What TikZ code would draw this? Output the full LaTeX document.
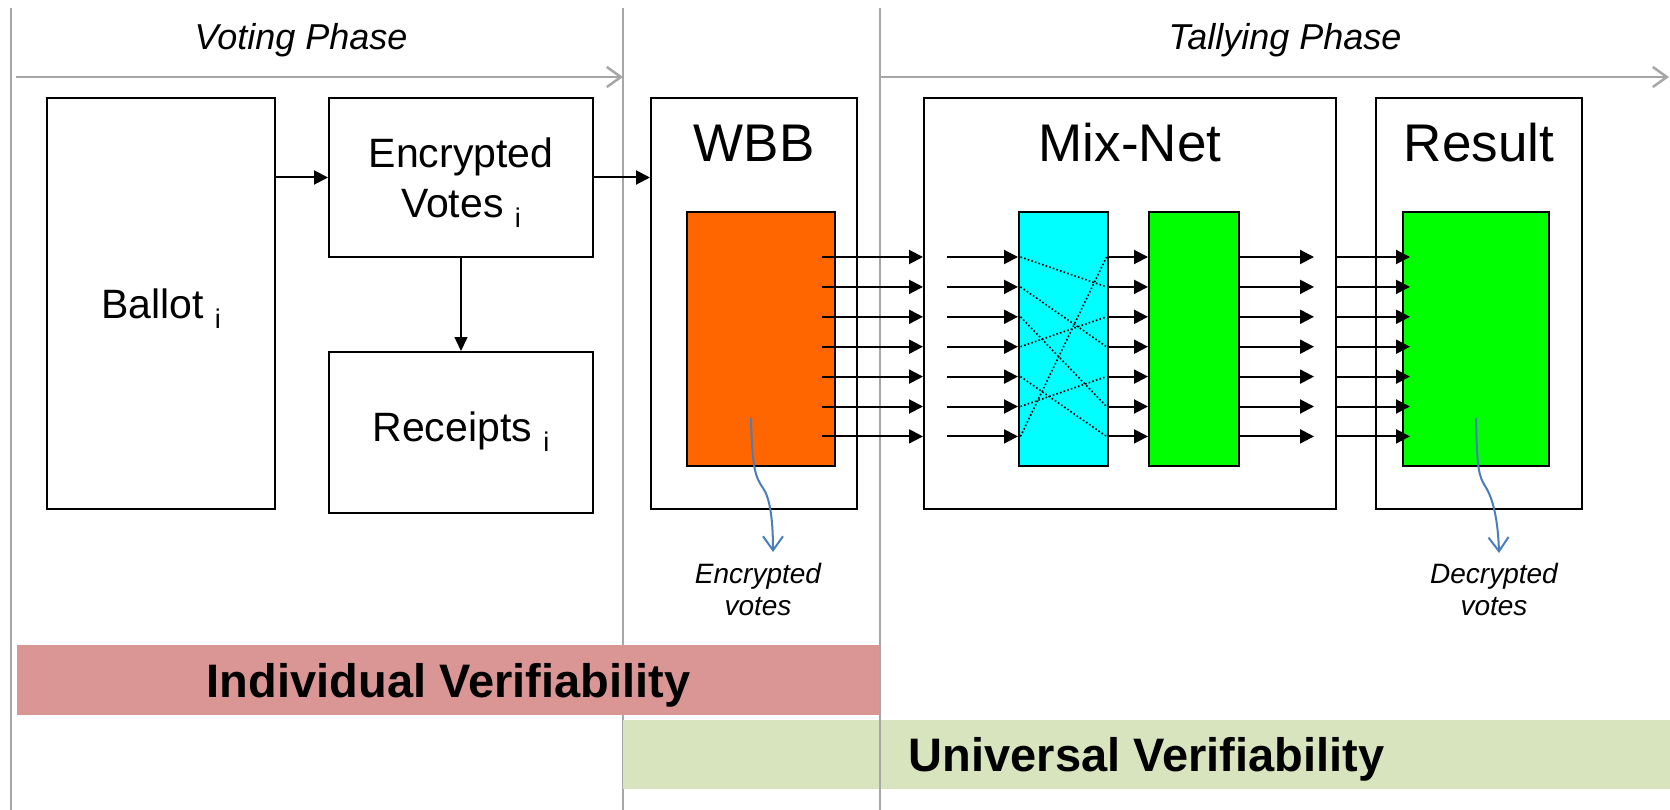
\documentclass[tikz,border=0pt]{standalone}
\usepackage{fontspec}
\setmainfont{Liberation Sans}
\usetikzlibrary{arrows.meta,calc}

\definecolor{phasegray}{HTML}{A6A6A6}
\definecolor{indivpink}{HTML}{D99694}
\definecolor{univgreen}{HTML}{D7E4BD}
\definecolor{wbborange}{HTML}{FF6600}
\definecolor{mixcyan}{HTML}{00FFFF}
\definecolor{brightgreen}{HTML}{00FF00}
\definecolor{pickblue}{HTML}{4A7EBB}

% lowered index letter used after box captions
\newcommand\sidx{\raisebox{-10pt}{\fontsize{27}{27}\selectfont i}}

\begin{document}
\begin{tikzpicture}[x=1pt,y=-1pt,
  box/.style={draw=black, line width=2pt, fill=white, inner sep=0pt},
  fillbox/.style={draw=black, line width=2pt, inner sep=0pt},
  boxtext/.style={font=\fontsize{41}{50}\selectfont, inner sep=0pt},
  title/.style={font=\fontsize{53}{60}\selectfont, inner sep=0pt, anchor=base},
  phase/.style={font=\fontsize{36}{40}\selectfont\itshape, inner sep=0pt, anchor=base},
  note/.style={font=\fontsize{28}{32}\selectfont\itshape, inner sep=0pt, anchor=north, align=center},
  band/.style={inner sep=0pt, font=\fontsize{47}{50}\selectfont\bfseries, text height=34pt, text depth=0pt},
  divider/.style={draw=phasegray, line width=2pt},
  phasearrow/.style={draw=phasegray, line width=2.5pt, -{Straight Barb[length=14pt,width=20pt]}},
  flow/.style={line width=2pt, -{Triangle[length=14pt,width=14pt]}},
  thinflow/.style={line width=1.5pt, -{Triangle[length=14pt,width=13pt]}},
  perm/.style={line width=1.6pt, dash pattern=on 1.6pt off 2.2pt},
  pick/.style={draw=pickblue, line width=2pt, -{Straight Barb[length=14pt,width=20pt]}},
]
\useasboundingbox (0,0) rectangle (1670,810);

% phase dividers
\coordinate (d1t) at (10.5,8);   \coordinate (d1b) at (10.5,810);
\coordinate (d2t) at (623,8);    \coordinate (d2b) at (623,810);
\coordinate (d3t) at (880,8);    \coordinate (d3b) at (880,810);
\draw[divider] (d1t) -- (d1b);
\draw[divider] (d2t) -- (d2b);

% phase timelines
\coordinate (vs) at (16,77);  \coordinate (ve) at (623,77);
\coordinate (ts) at (880,77); \coordinate (te) at (1669,77);
\draw[phasearrow] (vs) -- (ve);
\draw[phasearrow] (ts) -- (te);
\node[phase] (voting) at (301,50) {Voting Phase};
\node[phase] (tallying) at (1285,50) {Tallying Phase};

% verifiability bands
\node[band, fill=indivpink, minimum width=863pt, minimum height=70pt] (indiv) at (448.5,680) {Individual Verifiability};
\node[band, fill=univgreen, minimum width=1047pt, minimum height=69pt] (univ) at (1146.5,754.5) {Universal Verifiability};
\draw[divider] (d3t) -- (d3b);

% voting side
\node[box, minimum width=228pt, minimum height=411pt] (ballot) at (161,303.5) {};
\node[box, minimum width=264pt, minimum height=159pt] (enc) at (461,177.5) {};
\node[box, minimum width=264pt, minimum height=161pt] (rec) at (461,432.5) {};
\node[boxtext, anchor=base] (ballotlbl) at (161,318) {Ballot \sidx};
\node[boxtext, anchor=north, align=center] (enclbl) at (461,137.6) {Encrypted\\Votes \sidx};
\node[boxtext, anchor=base] (reclbl) at (461,441) {Receipts \sidx};

% bulletin board, mix-net and result
\node[box, minimum width=206pt, minimum height=411pt] (wbb) at (754,303.5) {};
\node[box, minimum width=412pt, minimum height=411pt] (mix) at (1130,303.5) {};
\node[box, minimum width=206pt, minimum height=411pt] (result) at (1479,303.5) {};
\node[title] (wbbtitle) at (754,162) {WBB};
\node[title] (mixtitle) at (1130,162) {Mix-Net};
\node[title] (restitle) at (1479,162) {Result};

\node[fillbox, fill=wbborange, minimum width=148pt, minimum height=254pt] (orange) at (761,339) {};
\node[fillbox, fill=mixcyan, minimum width=89pt, minimum height=254pt] (cyan) at (1063.5,339) {};
\node[fillbox, fill=brightgreen, minimum width=90pt, minimum height=254pt] (mixout) at (1194,339) {};
\node[fillbox, fill=brightgreen, minimum width=146pt, minimum height=254pt] (tally) at (1476,339) {};

% voting flow
\draw[flow] (ballot.east |- enc.west) -- (enc.west);
\draw[thinflow] (enc.south) -- (rec.north);
\draw[flow] (enc.east) -- (enc.east -| wbb.west);

% the seven vote lanes
\foreach \k in {1,...,7} {
  \coordinate (r\k) at (0,{257+29.9*(\k-1)});
}
\foreach \k in {1,...,7} {
  \draw[flow] ($(orange.east |- r\k)+(-14,0)$) -- (mix.west |- r\k);
  \draw[flow] ($(mix.west |- r\k)+(24,0)$) -- (cyan.west |- r\k);
  \draw[flow] (cyan.east |- r\k) -- (mixout.west |- r\k);
  \draw[flow] (mixout.east |- r\k) -- ($(mixout.east |- r\k)+(74,0)$);
  \draw[flow] (mix.east |- r\k) -- ($(tally.west |- r\k)+(8,0)$);
}

% shuffle permutation inside the mixer
\foreach \a/\b in {1/2,2/4,3/6,4/3,5/7,6/5,7/1} {
  \draw[perm] ($(cyan.west |- r\a)+(2.5,0)$) -- ($(cyan.east |- r\b)+(-2.5,0)$);
}

% annotations
\node[note] (encnote) at (758,563) {Encrypted\\votes};
\node[note] (decnote) at (1494,563) {Decrypted\\votes};
\coordinate (encsrc) at (751,418);
\coordinate (decsrc) at (1476,418);
\draw[pick] (encsrc) .. controls (752,470) and (756,478) .. (763,488)
            .. controls (770,498) and (773,520) .. ([xshift=15pt,yshift=11pt]encnote.north);
\draw[pick] (decsrc) .. controls (1477,470) and (1479,476) .. (1485,486)
            .. controls (1493,498) and (1498,520) .. ([xshift=5pt,yshift=10pt]decnote.north);
\end{tikzpicture}
\end{document}
